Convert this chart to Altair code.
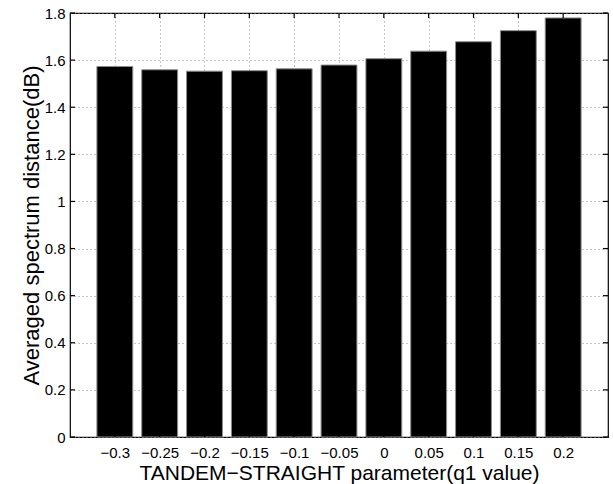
import altair as alt
import pandas as pd

q_values = [-0.3, -0.25, -0.2, -0.15, -0.1, -0.05, 0.0, 0.05, 0.1, 0.15, 0.2]
distances = [1.573, 1.559, 1.553, 1.555, 1.563, 1.579, 1.606, 1.638, 1.678, 1.725, 1.779]
y_ticks = [0, 0.2, 0.4, 0.6, 0.8, 1.0, 1.2, 1.4, 1.6, 1.8]

df = pd.DataFrame({"q": q_values, "d": distances})
ydf = pd.DataFrame({"v": y_ticks})
xdf = pd.DataFrame({"v": q_values})

FONT = "Liberation Sans"
W, H = 538, 424
TL = 5
xs = alt.Scale(domain=[-0.35, 0.25], nice=False, zero=False)
ys = alt.Scale(domain=[0, 1.8], nice=False)

grid_kw = dict(grid=True, gridDash=[1, 3], gridColor="#8a8a8a", gridWidth=1,
               ticks=False, domain=False, labelColor="black", titleColor="black",
               labelFont=FONT, titleFont=FONT, titleFontWeight="normal")

bars = alt.Chart(df).transform_calculate(
    x1="datum.q - 0.02", x2="datum.q + 0.02"
).mark_bar(color="black", stroke="#8c8c8c", strokeWidth=1).encode(
    x=alt.X("x1:Q", scale=xs, axis=None),
    x2="x2:Q",
    y=alt.Y("d:Q", scale=ys, axis=None),
    y2=alt.datum(0),
)

tick_style = dict(color="black", strokeWidth=1.2)
left_ticks = alt.Chart(ydf).mark_rule(**tick_style).encode(
    y=alt.Y("v:Q", scale=ys, axis=None), x=alt.value(0), x2=alt.value(TL))
right_ticks = alt.Chart(ydf).mark_rule(**tick_style).encode(
    y=alt.Y("v:Q", scale=ys, axis=None), x=alt.value(W - TL), x2=alt.value(W))
bottom_ticks = alt.Chart(xdf).mark_rule(**tick_style).encode(
    x=alt.X("v:Q", scale=xs, axis=None), y=alt.value(H - TL), y2=alt.value(H))
top_ticks = alt.Chart(xdf).mark_rule(**tick_style).encode(
    x=alt.X("v:Q", scale=xs, axis=None), y=alt.value(0), y2=alt.value(TL))

axes_layer = alt.Chart(df).mark_point(opacity=0).encode(
    x=alt.X("q:Q", scale=xs, axis=alt.Axis(
        orient="bottom", values=q_values,
        title="TANDEM\u2212STRAIGHT parameter(q1 value)",
        labelExpr="replace(format(datum.value, '~g'), '-', '\u2212')",
        labelPadding=8, labelFontSize=15, titleFontSize=21, titlePadding=2,
        **grid_kw)),
    y=alt.Y("d:Q", scale=ys, axis=alt.Axis(
        orient="left", values=y_ticks, format="~g",
        title="Averaged spectrum distance(dB)",
        labelPadding=5, labelFontSize=15, titleFontSize=22, titlePadding=1,
        **grid_kw)),
)

chart = alt.layer(
    axes_layer, bars, left_ticks, right_ticks, bottom_ticks, top_ticks
).resolve_axis(
    x="independent", y="independent"
).properties(
    width=W, height=H,
    background="white",
    autosize=alt.AutoSizeParams(type="none"),
    padding={"left": 70, "top": 13, "right": 5, "bottom": 47},
).configure_view(stroke="black", strokeWidth=1.2)

chart.save("out.html", embed_options={"renderer": "svg", "actions": False})
